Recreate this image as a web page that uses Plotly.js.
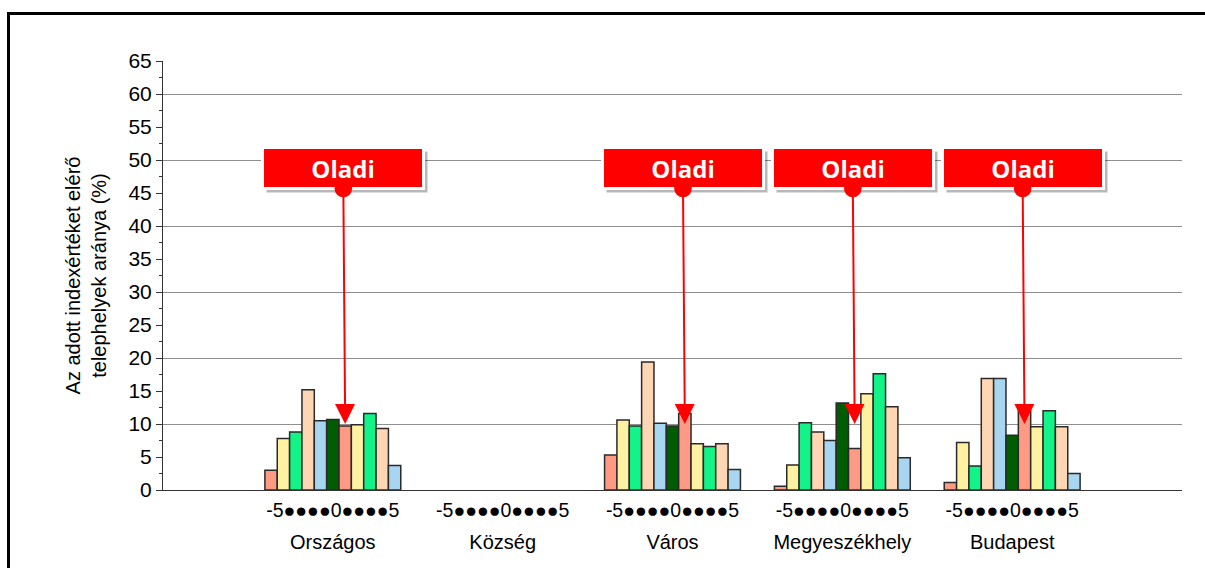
<!DOCTYPE html>
<html>
<head>
<meta charset="utf-8">
<script src="https://cdn.plot.ly/plotly-3.0.1.min.js"></script>
<style>
  body { margin: 0; background: #fff; }
  #chart { width: 1205px; height: 568px; }
  #frame { position: absolute; left: 7px; top: 12px; width: 1205px; height: 568px;
           border-left: 3px solid #000; border-top: 3px solid #000; pointer-events: none; }
</style>
</head>
<body>
<div id="chart"></div>
<div id="frame"></div>
<script>
// categories on the x axis
var categories = ['Országos', 'Község', 'Város', 'Megyeszékhely', 'Budapest'];
// index values, one bar per value inside each category
var indexValues = [-5, -4, -3, -2, -1, 0, 1, 2, 3, 4, 5];
var indexLabel = '-5●●●●0●●●●5';

// share (%) for each category, ordered -5 .. 5
var orszagos = [3.0, 7.8, 8.8, 15.2, 10.5, 10.7, 9.7, 9.9, 11.6, 9.3, 3.7];
var kozseg = [0, 0, 0, 0, 0, 0, 0, 0, 0, 0, 0];
var varos = [5.3, 10.6, 9.7, 19.4, 10.1, 9.7, 11.6, 7.0, 6.6, 7.0, 3.1];
var megyeszekhely = [0.55, 3.8, 10.2, 8.8, 7.5, 13.2, 6.3, 14.6, 17.6, 12.6, 4.9];
var budapest = [1.15, 7.2, 3.65, 16.9, 16.9, 8.3, 12.0, 9.6, 12.0, 9.6, 2.5];
var seriesByCat = [orszagos, kozseg, varos, megyeszekhely, budapest];

// "Oladi" markers
var oladiCats = ['Országos', 'Város', 'Megyeszékhely', 'Budapest'];
var oladiIndex = 1;
var oladiValue = 10;

var barColors = ['#FF9B85', '#FFF1A2', '#12F388', '#FFD6B4', '#A8D6F0', '#005C00',
                 '#FF9B85', '#FFF1A2', '#12F388', '#FFD6B4', '#A8D6F0'];

var bargap = 0.2;
var xpos = categories.map(function (c, i) { return i + 1; });

var data = indexValues.map(function (v, j) {
  var ys = seriesByCat.map(function (s) { return s[j]; });
  return {
    type: 'bar',
    name: String(v),
    x: xpos,
    y: ys,
    marker: {
      color: barColors[j],
      line: { color: '#2a2a2a', width: ys.map(function (y) { return y > 0 ? 1.5 : 0; }) }
    },
    hoverinfo: 'x+y'
  };
});

// second y axis only for the 10-step gridlines
data.push({ type: 'scatter', x: [], y: [], yaxis: 'y2', showlegend: false });
// second x axis only for category names
data.push({ type: 'scatter', x: [], y: [], xaxis: 'x2', showlegend: false });

var barW = (1 - bargap) / indexValues.length;
var annotations = [];
oladiCats.forEach(function (c) {
  var k = categories.indexOf(c) + 1;
  var xTip = k + (indexValues.indexOf(oladiIndex) - (indexValues.length - 1) / 2) * barW;
  // shadow behind the label
  annotations.push({
    x: xTip, y: oladiValue, xref: 'x', yref: 'y',
    ax: 2, ay: -252, showarrow: true, arrowcolor: 'rgba(0,0,0,0)',
    text: '&nbsp;', font: { size: 24, family: 'Open Sans' },
    bgcolor: 'rgba(0,0,0,0.28)', bordercolor: 'rgba(0,0,0,0)', borderwidth: 3,
    width: 152, height: 32, borderpad: 3
  });
  annotations.push({
    x: xTip, y: oladiValue, xref: 'x', yref: 'y',
    ax: -2, ay: -256, showarrow: true,
    arrowcolor: '#FF0000', arrowwidth: 2, arrowhead: 2, arrowsize: 2,
    arrowside: 'end+start', startarrowhead: 6, startarrowsize: 2.2,
    text: '<b>Oladi</b>', font: { color: '#FFFFFF', size: 24, family: 'Open Sans' },
    bgcolor: '#FF0000', bordercolor: '#FFFFFF', borderwidth: 3,
    width: 152, height: 32, borderpad: 3
  });
});

var layout = {
  width: 1205,
  height: 568,
  margin: { l: 163, r: 23, t: 61, b: 78 },
  paper_bgcolor: '#FFFFFF',
  plot_bgcolor: '#FFFFFF',
  showlegend: false,
  barmode: 'group',
  bargap: bargap,
  bargroupgap: 0,
  font: { family: 'Liberation Sans, Arial, sans-serif', color: '#000' },
  xaxis: {
    range: [0, 6],
    tickvals: xpos,
    ticktext: xpos.map(function () { return indexLabel; }),
    tickfont: { size: 19.5 },
    ticks: '',
    ticklabelstandoff: 3,
    showgrid: false,
    zeroline: false,
    showline: true,
    linecolor: '#333',
    linewidth: 1
  },
  xaxis2: {
    overlaying: 'x',
    anchor: 'y',
    side: 'bottom',
    range: [0, 6],
    tickvals: xpos,
    ticktext: categories,
    tickfont: { size: 20 },
    ticks: '',
    ticklabelstandoff: 38,
    showgrid: false,
    zeroline: false,
    showline: false
  },
  yaxis: {
    range: [0, 65],
    dtick: 5,
    tick0: 0,
    ticks: 'outside',
    ticklen: 6,
    tickcolor: '#333',
    tickfont: { size: 21 },
    showgrid: false,
    zeroline: false,
    showline: true,
    linecolor: '#333',
    linewidth: 1,
    minor: { dtick: 2.5, ticks: 'outside', ticklen: 3, tickcolor: '#333' },
    title: {
      text: 'Az adott indexértéket elérő<br>telephelyek aránya (%)',
      font: { size: 20 },
      standoff: 16
    }
  },
  yaxis2: {
    overlaying: 'y',
    range: [0, 65],
    dtick: 10,
    tick0: 0,
    showticklabels: false,
    ticks: '',
    showgrid: true,
    gridcolor: '#8f8f8f',
    gridwidth: 1,
    zeroline: false,
    showline: false
  },
  annotations: annotations
};

Plotly.newPlot('chart', data, layout, { displayModeBar: false });
</script>
</body>
</html>
